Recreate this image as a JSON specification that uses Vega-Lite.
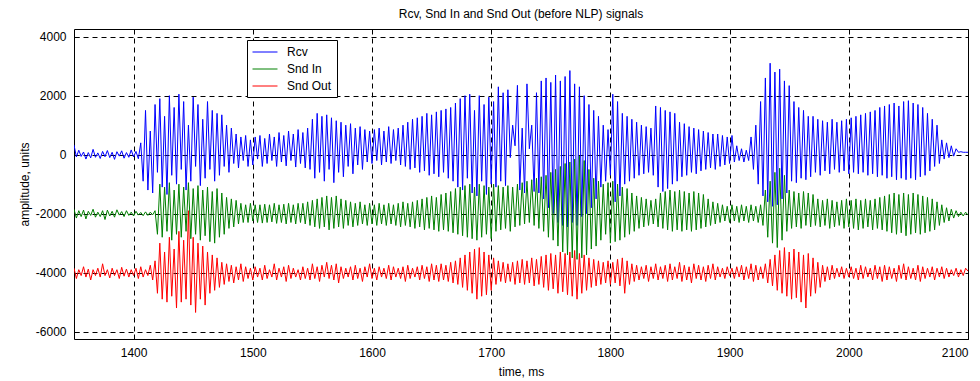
{"$schema":"https://vega.github.io/schema/vega-lite/v6.json","width":894,"height":310,"autosize":"none","padding":{"left":74,"top":29,"right":12,"bottom":42},"background":"white",
"title":{"text":"Rcv, Snd In and Snd Out (before NLP) signals","font":"Liberation Sans","fontSize":12,"fontWeight":"normal","color":"black","offset":8},
"config":{"view":{"stroke":"black","strokeWidth":1},"axis":{"labelFont":"Liberation Sans","labelFontSize":12,"labelColor":"black","titleFont":"Liberation Sans","titleFontSize":12,"titleFontWeight":"normal","titleColor":"black","grid":true,"gridColor":"black","gridDash":[5,4],"gridOpacity":1,"gridWidth":1,"domain":false,"tickColor":"black","tickSize":-5},"legend":{"labelFont":"Liberation Sans","labelFontSize":12,"labelColor":"black"}},
"data":{"values":[
{"t":1350,"r":330,"i":-1850,"o":-3850},{"t":1352,"r":-80,"i":-2150,"o":-4200},{"t":1354,"r":150,"i":-1900,"o":-3900},{"t":1356,"r":-60,"i":-2100,"o":-4100},{"t":1358,"r":90,"i":-1880,"o":-3800},{"t":1360,"r":-150,"i":-2180,"o":-4150},{"t":1362,"r":70,"i":-1920,"o":-3880},{"t":1364,"r":-110,"i":-2060,"o":-4250},{"t":1366,"r":180,"i":-1850,"o":-3900},{"t":1368,"r":-90,"i":-2120,"o":-4100},
{"t":1370,"r":60,"i":-1950,"o":-3850},{"t":1372,"r":-130,"i":-2100,"o":-4150},{"t":1374,"r":110,"i":-1900,"o":-3700},{"t":1376,"r":-70,"i":-2200,"o":-4100},{"t":1378,"r":140,"i":-1880,"o":-3900},{"t":1380,"r":-100,"i":-2080,"o":-4180},{"t":1382,"r":80,"i":-1920,"o":-3850},{"t":1384,"r":-160,"i":-2120,"o":-4100},{"t":1386,"r":100,"i":-1870,"o":-3900},{"t":1388,"r":-50,"i":-2050,"o":-4200},
{"t":1390,"r":130,"i":-1930,"o":-3820},{"t":1392,"r":-120,"i":-2100,"o":-4120},{"t":1394,"r":70,"i":-1900,"o":-3880},{"t":1396,"r":-90,"i":-2060,"o":-4150},{"t":1398,"r":160,"i":-1950,"o":-3900},{"t":1400,"r":-80,"i":-2080,"o":-4100},{"t":1402,"r":110,"i":-1920,"o":-3850},{"t":1404,"r":-140,"i":-2050,"o":-4200},{"t":1406,"r":400,"i":-1960,"o":-3800},{"t":1408,"r":-900,"i":-2070,"o":-4150},
{"t":1410,"r":1500,"i":-1940,"o":-3900},{"t":1412,"r":-1200,"i":-2060,"o":-4100},{"t":1414,"r":800,"i":-1950,"o":-3750},{"t":1416,"r":-1300,"i":-2040,"o":-4250},{"t":1418,"r":1700,"i":-1900,"o":-3600},{"t":1420,"r":-600,"i":-2700,"o":-4700},{"t":1422,"r":1900,"i":-1000,"o":-3000},{"t":1424,"r":-1100,"i":-2800,"o":-4900},{"t":1426,"r":1300,"i":-1100,"o":-3300},{"t":1428,"r":-1350,"i":-2600,"o":-5000},
{"t":1430,"r":2000,"i":-950,"o":-2800},{"t":1432,"r":-700,"i":-2900,"o":-4800},{"t":1434,"r":1600,"i":-1200,"o":-3200},{"t":1436,"r":-1000,"i":-2700,"o":-5200},{"t":1438,"r":2050,"i":-1000,"o":-2600},{"t":1440,"r":-500,"i":-2800,"o":-5000},{"t":1442,"r":1800,"i":-1100,"o":-2900},{"t":1444,"r":-1200,"i":-2600,"o":-4900},{"t":1446,"r":1000,"i":-950,"o":-1900},{"t":1448,"r":-900,"i":-2850,"o":-5100},
{"t":1450,"r":1950,"i":-1150,"o":-2800},{"t":1452,"r":-400,"i":-2700,"o":-5350},{"t":1454,"r":1700,"i":-1050,"o":-3000},{"t":1456,"r":-1050,"i":-2900,"o":-4900},{"t":1458,"r":1200,"i":-1200,"o":-3100},{"t":1460,"r":-800,"i":-2750,"o":-5100},{"t":1462,"r":1800,"i":-1100,"o":-3300},{"t":1464,"r":-500,"i":-2950,"o":-4700},{"t":1466,"r":1500,"i":-1250,"o":-3400},{"t":1468,"r":-900,"i":-3000,"o":-4600},
{"t":1470,"r":1400,"i":-1150,"o":-3500},{"t":1472,"r":-700,"i":-2800,"o":-4500},{"t":1474,"r":1350,"i":-1300,"o":-3650},{"t":1476,"r":-400,"i":-2700,"o":-4400},{"t":1478,"r":1000,"i":-1450,"o":-3700},{"t":1480,"r":-600,"i":-2500,"o":-4300},{"t":1482,"r":900,"i":-1500,"o":-3750},{"t":1484,"r":-300,"i":-2450,"o":-4350},{"t":1486,"r":700,"i":-1550,"o":-3800},{"t":1488,"r":-450,"i":-2350,"o":-4250},
{"t":1490,"r":600,"i":-1650,"o":-3700},{"t":1492,"r":-200,"i":-2300,"o":-4300},{"t":1494,"r":650,"i":-1700,"o":-3800},{"t":1496,"r":-400,"i":-2300,"o":-4200},{"t":1498,"r":500,"i":-1650,"o":-3850},{"t":1500,"r":-350,"i":-2250,"o":-4250},{"t":1502,"r":600,"i":-1700,"o":-3800},{"t":1504,"r":-150,"i":-2300,"o":-4150},{"t":1506,"r":650,"i":-1700,"o":-3850},{"t":1508,"r":-400,"i":-2320,"o":-4250},
{"t":1510,"r":550,"i":-1680,"o":-3750},{"t":1512,"r":-300,"i":-2300,"o":-4200},{"t":1514,"r":700,"i":-1700,"o":-3900},{"t":1516,"r":-200,"i":-2280,"o":-4150},{"t":1518,"r":600,"i":-1650,"o":-3700},{"t":1520,"r":-400,"i":-2330,"o":-4250},{"t":1522,"r":750,"i":-1700,"o":-3850},{"t":1524,"r":-250,"i":-2300,"o":-4150},{"t":1526,"r":650,"i":-1680,"o":-3800},{"t":1528,"r":-380,"i":-2350,"o":-4300},
{"t":1530,"r":800,"i":-1650,"o":-3750},{"t":1532,"r":-200,"i":-2300,"o":-4200},{"t":1534,"r":700,"i":-1700,"o":-3850},{"t":1536,"r":-420,"i":-2350,"o":-4150},{"t":1538,"r":850,"i":-1650,"o":-3900},{"t":1540,"r":-300,"i":-2300,"o":-4250},{"t":1542,"r":750,"i":-1650,"o":-3800},{"t":1544,"r":-450,"i":-2350,"o":-4200},{"t":1546,"r":900,"i":-1600,"o":-3850},{"t":1548,"r":-500,"i":-2400,"o":-4250},
{"t":1550,"r":1200,"i":-1550,"o":-3700},{"t":1552,"r":-800,"i":-2450,"o":-4200},{"t":1554,"r":1400,"i":-1500,"o":-3800},{"t":1556,"r":-600,"i":-2500,"o":-4300},{"t":1558,"r":1300,"i":-1450,"o":-3750},{"t":1560,"r":-900,"i":-2450,"o":-4150},{"t":1562,"r":1350,"i":-1400,"o":-3650},{"t":1564,"r":-500,"i":-2550,"o":-4200},{"t":1566,"r":1250,"i":-1450,"o":-3750},{"t":1568,"r":-950,"i":-2500,"o":-4250},
{"t":1570,"r":1150,"i":-1400,"o":-3700},{"t":1572,"r":-600,"i":-2450,"o":-4350},{"t":1574,"r":1100,"i":-1500,"o":-3800},{"t":1576,"r":-750,"i":-2500,"o":-4200},{"t":1578,"r":1000,"i":-1550,"o":-3850},{"t":1580,"r":-400,"i":-2400,"o":-4150},{"t":1582,"r":1050,"i":-1600,"o":-3800},{"t":1584,"r":-650,"i":-2450,"o":-4250},{"t":1586,"r":900,"i":-1650,"o":-3750},{"t":1588,"r":-350,"i":-2400,"o":-4200},
{"t":1590,"r":950,"i":-1600,"o":-3850},{"t":1592,"r":-500,"i":-2350,"o":-4300},{"t":1594,"r":850,"i":-1700,"o":-3800},{"t":1596,"r":-250,"i":-2400,"o":-4150},{"t":1598,"r":800,"i":-1650,"o":-3700},{"t":1600,"r":-300,"i":-2350,"o":-4200},{"t":1602,"r":850,"i":-1700,"o":-3850},{"t":1604,"r":-200,"i":-2400,"o":-4250},{"t":1606,"r":900,"i":-1650,"o":-3800},{"t":1608,"r":-350,"i":-2350,"o":-4150},
{"t":1610,"r":800,"i":-1700,"o":-3850},{"t":1612,"r":-250,"i":-2400,"o":-4200},{"t":1614,"r":950,"i":-1650,"o":-3750},{"t":1616,"r":-300,"i":-2350,"o":-4250},{"t":1618,"r":850,"i":-1700,"o":-3800},{"t":1620,"r":-200,"i":-2400,"o":-4150},{"t":1622,"r":900,"i":-1650,"o":-3850},{"t":1624,"r":-350,"i":-2450,"o":-4200},{"t":1626,"r":1000,"i":-1600,"o":-3800},{"t":1628,"r":-400,"i":-2400,"o":-4300},
{"t":1630,"r":1100,"i":-1650,"o":-3750},{"t":1632,"r":-500,"i":-2450,"o":-4200},{"t":1634,"r":1200,"i":-1600,"o":-3850},{"t":1636,"r":-450,"i":-2500,"o":-4150},{"t":1638,"r":1250,"i":-1550,"o":-3800},{"t":1640,"r":-600,"i":-2450,"o":-4250},{"t":1642,"r":1300,"i":-1500,"o":-3750},{"t":1644,"r":-550,"i":-2550,"o":-4200},{"t":1646,"r":1400,"i":-1450,"o":-3800},{"t":1648,"r":-700,"i":-2500,"o":-4300},
{"t":1650,"r":1350,"i":-1400,"o":-3700},{"t":1652,"r":-650,"i":-2550,"o":-4250},{"t":1654,"r":1450,"i":-1450,"o":-3750},{"t":1656,"r":-750,"i":-2600,"o":-4300},{"t":1658,"r":1500,"i":-1350,"o":-3700},{"t":1660,"r":-600,"i":-2550,"o":-4250},{"t":1662,"r":1550,"i":-1300,"o":-3750},{"t":1664,"r":-800,"i":-2600,"o":-4300},{"t":1666,"r":1600,"i":-1250,"o":-3650},{"t":1668,"r":-900,"i":-2650,"o":-4350},
{"t":1670,"r":1750,"i":-1150,"o":-3600},{"t":1672,"r":-1100,"i":-2700,"o":-4400},{"t":1674,"r":1900,"i":-1100,"o":-3500},{"t":1676,"r":-1200,"i":-2750,"o":-4500},{"t":1678,"r":2000,"i":-1050,"o":-3400},{"t":1680,"r":-800,"i":-2800,"o":-4600},{"t":1682,"r":2050,"i":-1000,"o":-3300},{"t":1684,"r":-1300,"i":-2850,"o":-4700},{"t":1686,"r":1500,"i":-1100,"o":-3200},{"t":1688,"r":-1400,"i":-2900,"o":-4900},
{"t":1690,"r":2000,"i":-1000,"o":-3150},{"t":1692,"r":-900,"i":-2800,"o":-4800},{"t":1694,"r":1700,"i":-1050,"o":-3300},{"t":1696,"r":-1350,"i":-2700,"o":-4750},{"t":1698,"r":1950,"i":-1100,"o":-3400},{"t":1700,"r":-1000,"i":-2850,"o":-4600},{"t":1702,"r":1800,"i":-1000,"o":-3500},{"t":1704,"r":-1100,"i":-2600,"o":-4400},{"t":1706,"r":2300,"i":-1050,"o":-3600},{"t":1708,"r":-900,"i":-2550,"o":-4300},
{"t":1710,"r":2100,"i":-1100,"o":-3650},{"t":1712,"r":-1050,"i":-2500,"o":-4350},{"t":1714,"r":2200,"i":-1050,"o":-3700},{"t":1716,"r":-100,"i":-2600,"o":-4300},{"t":1718,"r":1000,"i":-1100,"o":-3650},{"t":1720,"r":300,"i":-2450,"o":-4400},{"t":1722,"r":2350,"i":-1000,"o":-3600},{"t":1724,"r":-1200,"i":-2400,"o":-4350},{"t":1726,"r":900,"i":-950,"o":-3550},{"t":1728,"r":-1300,"i":-2350,"o":-4400},
{"t":1730,"r":2400,"i":-900,"o":-3600},{"t":1732,"r":200,"i":-2300,"o":-4350},{"t":1734,"r":1000,"i":-850,"o":-3500},{"t":1736,"r":-1250,"i":-2400,"o":-4450},{"t":1738,"r":2100,"i":-800,"o":-3550},{"t":1740,"r":-1300,"i":-2500,"o":-4400},{"t":1742,"r":2500,"i":-750,"o":-3450},{"t":1744,"r":-1500,"i":-2600,"o":-4500},{"t":1746,"r":2600,"i":-700,"o":-3400},{"t":1748,"r":-1800,"i":-2800,"o":-4600},
{"t":1750,"r":2450,"i":-600,"o":-3350},{"t":1752,"r":-2000,"i":-2900,"o":-4550},{"t":1754,"r":2700,"i":-500,"o":-3400},{"t":1756,"r":-2300,"i":-3100,"o":-4700},{"t":1758,"r":2500,"i":-400,"o":-3300},{"t":1760,"r":-2400,"i":-3300,"o":-4650},{"t":1762,"r":2650,"i":-300,"o":-3350},{"t":1764,"r":-2450,"i":-3400,"o":-4750},{"t":1766,"r":2850,"i":-250,"o":-3300},{"t":1768,"r":-2300,"i":-3500,"o":-4800},
{"t":1770,"r":2400,"i":-150,"o":-3250},{"t":1772,"r":-2400,"i":-3550,"o":-4900},{"t":1774,"r":2300,"i":-50,"o":-3350},{"t":1776,"r":-2100,"i":-3500,"o":-4700},{"t":1778,"r":2000,"i":-200,"o":-3400},{"t":1780,"r":-2000,"i":-3400,"o":-4600},{"t":1782,"r":1700,"i":-500,"o":-3500},{"t":1784,"r":-1800,"i":-3200,"o":-4500},{"t":1786,"r":1500,"i":-800,"o":-3550},{"t":1788,"r":-1500,"i":-3100,"o":-4450},
{"t":1790,"r":1300,"i":-900,"o":-3600},{"t":1792,"r":-1100,"i":-2900,"o":-4400},{"t":1794,"r":1000,"i":-1000,"o":-3650},{"t":1796,"r":-900,"i":-2700,"o":-4350},{"t":1798,"r":850,"i":-950,"o":-3600},{"t":1800,"r":-700,"i":-3000,"o":-4400},{"t":1802,"r":2050,"i":-900,"o":-3650},{"t":1804,"r":-1600,"i":-2950,"o":-4350},{"t":1806,"r":1800,"i":-1000,"o":-3550},{"t":1808,"r":-1400,"i":-2900,"o":-4450},
{"t":1810,"r":1400,"i":-1100,"o":-3500},{"t":1812,"r":-1000,"i":-2800,"o":-4700},{"t":1814,"r":1300,"i":-1150,"o":-3600},{"t":1816,"r":-900,"i":-2700,"o":-4400},{"t":1818,"r":1200,"i":-1300,"o":-3700},{"t":1820,"r":-800,"i":-2600,"o":-4300},{"t":1822,"r":1100,"i":-1400,"o":-3750},{"t":1824,"r":-700,"i":-2500,"o":-4250},{"t":1826,"r":1000,"i":-1450,"o":-3800},{"t":1828,"r":-650,"i":-2450,"o":-4200},
{"t":1830,"r":950,"i":-1500,"o":-3750},{"t":1832,"r":-600,"i":-2400,"o":-4300},{"t":1834,"r":900,"i":-1550,"o":-3800},{"t":1836,"r":-700,"i":-2350,"o":-4200},{"t":1838,"r":1650,"i":-1500,"o":-3700},{"t":1840,"r":-1100,"i":-2450,"o":-4250},{"t":1842,"r":1600,"i":-1300,"o":-3800},{"t":1844,"r":-1250,"i":-2500,"o":-4200},{"t":1846,"r":1500,"i":-1250,"o":-3750},{"t":1848,"r":-1150,"i":-2550,"o":-4300},
{"t":1850,"r":1450,"i":-1200,"o":-3700},{"t":1852,"r":-1000,"i":-2600,"o":-4250},{"t":1854,"r":1400,"i":-1250,"o":-3800},{"t":1856,"r":-900,"i":-2550,"o":-4200},{"t":1858,"r":1100,"i":-1200,"o":-3650},{"t":1860,"r":-750,"i":-2600,"o":-4300},{"t":1862,"r":1050,"i":-1250,"o":-3750},{"t":1864,"r":-700,"i":-2550,"o":-4250},{"t":1866,"r":950,"i":-1300,"o":-3800},{"t":1868,"r":-600,"i":-2600,"o":-4350},
{"t":1870,"r":900,"i":-1250,"o":-3700},{"t":1872,"r":-650,"i":-2550,"o":-4200},{"t":1874,"r":850,"i":-1300,"o":-3750},{"t":1876,"r":-550,"i":-2500,"o":-4250},{"t":1878,"r":800,"i":-1350,"o":-3800},{"t":1880,"r":-500,"i":-2450,"o":-4300},{"t":1882,"r":750,"i":-1500,"o":-3750},{"t":1884,"r":-450,"i":-2400,"o":-4200},{"t":1886,"r":700,"i":-1600,"o":-3700},{"t":1888,"r":-500,"i":-2350,"o":-4250},
{"t":1890,"r":700,"i":-1650,"o":-3800},{"t":1892,"r":-400,"i":-2300,"o":-4150},{"t":1894,"r":650,"i":-1700,"o":-3850},{"t":1896,"r":-350,"i":-2250,"o":-4200},{"t":1898,"r":600,"i":-1750,"o":-3800},{"t":1900,"r":-300,"i":-2300,"o":-4100},{"t":1902,"r":650,"i":-1700,"o":-3850},{"t":1904,"r":-250,"i":-2250,"o":-4200},{"t":1906,"r":300,"i":-1750,"o":-3800},{"t":1908,"r":-200,"i":-2300,"o":-4150},
{"t":1910,"r":200,"i":-1700,"o":-3750},{"t":1912,"r":-250,"i":-2250,"o":-4250},{"t":1914,"r":150,"i":-1750,"o":-3800},{"t":1916,"r":-200,"i":-2300,"o":-4200},{"t":1918,"r":600,"i":-1700,"o":-3700},{"t":1920,"r":-500,"i":-2250,"o":-4300},{"t":1922,"r":1000,"i":-1750,"o":-3750},{"t":1924,"r":-1000,"i":-2300,"o":-4250},{"t":1926,"r":1800,"i":-1700,"o":-3800},{"t":1928,"r":-1400,"i":-2400,"o":-4200},
{"t":1930,"r":2600,"i":-1200,"o":-3700},{"t":1932,"r":-1600,"i":-2800,"o":-4350},{"t":1934,"r":3100,"i":-900,"o":-3550},{"t":1936,"r":-1750,"i":-3000,"o":-4450},{"t":1938,"r":2800,"i":-600,"o":-3400},{"t":1940,"r":-1700,"i":-3150,"o":-4600},{"t":1942,"r":2900,"i":-460,"o":-3250},{"t":1944,"r":-1500,"i":-2900,"o":-4700},{"t":1946,"r":2500,"i":-700,"o":-3150},{"t":1948,"r":-1300,"i":-2600,"o":-4800},
{"t":1950,"r":2340,"i":-1200,"o":-3300},{"t":1952,"r":-900,"i":-2500,"o":-4900},{"t":1954,"r":1800,"i":-1250,"o":-3200},{"t":1956,"r":-950,"i":-2450,"o":-4850},{"t":1958,"r":1600,"i":-1300,"o":-3300},{"t":1960,"r":-800,"i":-2500,"o":-5000},{"t":1962,"r":1500,"i":-1250,"o":-3400},{"t":1964,"r":-850,"i":-2400,"o":-5200},{"t":1966,"r":1300,"i":-1300,"o":-3350},{"t":1968,"r":-750,"i":-2450,"o":-4800},
{"t":1970,"r":1300,"i":-1350,"o":-3500},{"t":1972,"r":-600,"i":-2400,"o":-4700},{"t":1974,"r":1200,"i":-1500,"o":-3650},{"t":1976,"r":-700,"i":-2450,"o":-4500},{"t":1978,"r":1150,"i":-1550,"o":-3750},{"t":1980,"r":-550,"i":-2400,"o":-4300},{"t":1982,"r":1100,"i":-1500,"o":-3800},{"t":1984,"r":-650,"i":-2500,"o":-4250},{"t":1986,"r":1200,"i":-1550,"o":-3750},{"t":1988,"r":-500,"i":-2450,"o":-4200},
{"t":1990,"r":1100,"i":-1600,"o":-3850},{"t":1992,"r":-600,"i":-2400,"o":-4150},{"t":1994,"r":1150,"i":-1550,"o":-3800},{"t":1996,"r":-550,"i":-2500,"o":-4200},{"t":1998,"r":1200,"i":-1500,"o":-3850},{"t":2000,"r":-650,"i":-2450,"o":-4150},{"t":2002,"r":1250,"i":-1550,"o":-3800},{"t":2004,"r":-600,"i":-2500,"o":-4200},{"t":2006,"r":1300,"i":-1500,"o":-3850},{"t":2008,"r":-650,"i":-2550,"o":-4250},
{"t":2010,"r":1350,"i":-1550,"o":-3750},{"t":2012,"r":-600,"i":-2500,"o":-4200},{"t":2014,"r":1400,"i":-1500,"o":-3800},{"t":2016,"r":-700,"i":-2450,"o":-4150},{"t":2018,"r":1450,"i":-1550,"o":-3850},{"t":2020,"r":-650,"i":-2550,"o":-4250},{"t":2022,"r":1500,"i":-1500,"o":-3750},{"t":2024,"r":-750,"i":-2500,"o":-4200},{"t":2026,"r":1600,"i":-1450,"o":-3800},{"t":2028,"r":-700,"i":-2550,"o":-4300},
{"t":2030,"r":1650,"i":-1400,"o":-3750},{"t":2032,"r":-800,"i":-2600,"o":-4250},{"t":2034,"r":1700,"i":-1350,"o":-3800},{"t":2036,"r":-750,"i":-2650,"o":-4200},{"t":2038,"r":1750,"i":-1300,"o":-3850},{"t":2040,"r":-850,"i":-2700,"o":-4300},{"t":2042,"r":1650,"i":-1350,"o":-3750},{"t":2044,"r":-800,"i":-2650,"o":-4200},{"t":2046,"r":1800,"i":-1300,"o":-3700},{"t":2048,"r":-850,"i":-2750,"o":-4250},
{"t":2050,"r":1830,"i":-1350,"o":-3800},{"t":2052,"r":-800,"i":-2700,"o":-4200},{"t":2054,"r":1750,"i":-1300,"o":-3850},{"t":2056,"r":-850,"i":-2650,"o":-4250},{"t":2058,"r":1700,"i":-1350,"o":-3750},{"t":2060,"r":-750,"i":-2700,"o":-4300},{"t":2062,"r":1600,"i":-1400,"o":-3800},{"t":2064,"r":-700,"i":-2650,"o":-4200},{"t":2066,"r":1400,"i":-1450,"o":-3850},{"t":2068,"r":-550,"i":-2600,"o":-4150},
{"t":2070,"r":1200,"i":-1500,"o":-3800},{"t":2072,"r":-400,"i":-2550,"o":-4250},{"t":2074,"r":1000,"i":-1600,"o":-3850},{"t":2076,"r":-300,"i":-2400,"o":-4150},{"t":2078,"r":500,"i":-1700,"o":-3800},{"t":2080,"r":-150,"i":-2300,"o":-4200},{"t":2082,"r":400,"i":-1800,"o":-3850},{"t":2084,"r":-100,"i":-2250,"o":-4150},{"t":2086,"r":300,"i":-1850,"o":-3900},{"t":2088,"r":-50,"i":-2150,"o":-4100},
{"t":2090,"r":200,"i":-1900,"o":-3850},{"t":2092,"r":80,"i":-2100,"o":-4150},{"t":2094,"r":100,"i":-1950,"o":-3900},{"t":2096,"r":80,"i":-2080,"o":-4100},{"t":2098,"r":80,"i":-1950,"o":-3850},{"t":2100,"r":80,"i":-2050,"o":-3950}
]},
"transform":[{"fold":["r","i","o"],"as":["s","v"]}],
"mark":{"type":"line","strokeWidth":1,"clip":true},
"encoding":{
"x":{"field":"t","type":"quantitative","scale":{"domain":[1350,2100],"nice":false,"zero":false},"axis":{"title":"time, ms","values":[1400,1500,1600,1700,1800,1900,2000,2100],"labelExpr":"datum.value + ''","labelPadding":13,"titlePadding":8}},
"y":{"field":"v","type":"quantitative","scale":{"domain":[-6250,4260],"nice":false,"zero":false},"axis":{"title":"amplitude, units","values":[-6000,-4000,-2000,0,2000,4000],"labelExpr":"datum.value + ''","labelPadding":13,"titlePadding":4}},
"color":{"field":"s","type":"nominal","scale":{"domain":["r","i","o"],"range":["#0000ff","#008000","#ff0000"]},"legend":{"title":null,"orient":"none","legendX":173,"legendY":11,"symbolType":"M-2,0H2","symbolSize":156,"symbolStrokeWidth":1,"symbolOffset":6,"labelExpr":"(datum.label == 'r' ? 'Rcv' : datum.label == 'i' ? 'Snd In' : 'Snd Out') + '\u00a0\u00a0\u00a0'","fillColor":"white","strokeColor":"black","padding":5,"rowPadding":4,"labelOffset":15}}
}}
